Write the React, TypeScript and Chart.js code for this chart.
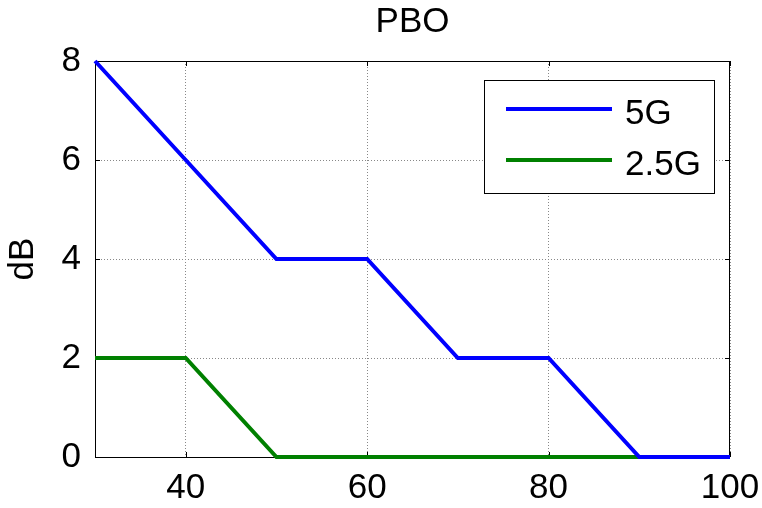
import React, { useEffect, useRef } from 'react';
import { Chart, registerables } from 'chart.js';

Chart.register(...registerables);

const titleText = 'PBO';
const yAxisTitle = 'dB';
const seriesLabels = ['5G', '2.5G'];
const xValues = [30, 40, 50, 60, 70, 80, 90, 100];
const values5G = [8, 6, 4, 4, 2, 2, 0, 0];
const values25G = [2, 2, 0, 0, 0, 0, 0, 0];
const xTickValues = [40, 60, 80, 100];
const yTickValues = [0, 2, 4, 6, 8];
const seriesColors = ['#0000FF', '#008000'];

const FONT = 'Arial, "Liberation Sans", Helvetica, sans-serif';
const FS = 35;

const matlabPlugin = {
  id: 'matlabBox',
  beforeDatasetsDraw(chart: any) {
    const { ctx, chartArea: a, scales } = chart;
    ctx.save();
    ctx.strokeStyle = '#000';
    ctx.lineWidth = 1;
    ctx.strokeRect(a.left + 0.5, a.top + 0.5, a.right - a.left - 1, a.bottom - a.top);
    const tl = 5;
    ctx.beginPath();
    for (const v of xTickValues) {
      const x = Math.round(scales.x.getPixelForValue(v)) + 0.5;
      ctx.moveTo(x, a.bottom);
      ctx.lineTo(x, a.bottom - tl);
      ctx.moveTo(x, a.top);
      ctx.lineTo(x, a.top + tl);
    }
    for (const v of yTickValues) {
      const y = Math.round(scales.y.getPixelForValue(v)) + 0.5;
      ctx.moveTo(a.left, y);
      ctx.lineTo(a.left + tl, y);
      ctx.moveTo(a.right, y);
      ctx.lineTo(a.right - tl, y);
    }
    ctx.stroke();
    ctx.restore();
  },
  afterDraw(chart: any) {
    const { ctx, chartArea: a } = chart;
    const right = a.right - 16;
    const left = right - 230;
    const top = a.top + 19;
    const h = 113;
    ctx.save();
    ctx.fillStyle = '#fff';
    ctx.fillRect(left, top, right - left, h);
    ctx.strokeStyle = '#000';
    ctx.lineWidth = 1;
    ctx.strokeRect(left + 0.5, top + 0.5, right - left, h);
    chart.data.datasets.forEach((ds: any, i: number) => {
      const y = top + 29 + i * 51;
      ctx.strokeStyle = ds.borderColor;
      ctx.lineWidth = 4;
      ctx.beginPath();
      ctx.moveTo(left + 22, y);
      ctx.lineTo(left + 128, y);
      ctx.stroke();
      ctx.fillStyle = '#000';
      ctx.font = `${FS}px ${FONT}`;
      ctx.textBaseline = 'middle';
      ctx.textAlign = 'left';
      ctx.fillText(ds.label, left + 141, y + 5);
    });
    ctx.restore();
  },
};

export default function App() {
  const ref = useRef<HTMLCanvasElement | null>(null);
  useEffect(() => {
    if (!ref.current) return;
    const mk = (ys: number[]) => xValues.map((x, i) => ({ x, y: ys[i] }));
    const chart = new Chart(ref.current, {
      type: 'line',
      data: {
        datasets: [
          { label: seriesLabels[0], data: mk(values5G), borderColor: seriesColors[0], backgroundColor: seriesColors[0], borderWidth: 4, pointRadius: 0, tension: 0, clip: 6 } as any,
          { label: seriesLabels[1], data: mk(values25G), borderColor: seriesColors[1], backgroundColor: seriesColors[1], borderWidth: 4, pointRadius: 0, tension: 0, clip: 6 } as any,
        ],
      },
      options: {
        animation: false,
        responsive: false,
        maintainAspectRatio: false,
        layout: { padding: { left: 0, right: 32, top: 0, bottom: 0 } },
        plugins: {
          legend: { display: false },
          tooltip: { enabled: false },
          title: {
            display: true,
            fullSize: false,
            text: titleText,
            color: '#000',
            font: { family: FONT, size: FS, weight: 'normal' },
            padding: { top: 1, bottom: 18 },
          },
        },
        scales: {
          x: {
            type: 'linear',
            min: 30,
            max: 100,
            afterBuildTicks: (s: any) => {
              s.ticks = xTickValues.map((v) => ({ value: v }));
            },
            afterFit: (s: any) => {
              s.height = 51;
              s.paddingLeft = 0;
              s.paddingRight = 0;
            },
            grid: { drawTicks: false, color: '#888', lineWidth: 1 },
            border: { display: false, dash: [1, 2] },
            ticks: { color: '#000', font: { family: FONT, size: FS }, padding: 10, maxRotation: 0 },
          },
          y: {
            type: 'linear',
            min: 0,
            max: 8,
            afterBuildTicks: (s: any) => {
              s.ticks = yTickValues.map((v) => ({ value: v }));
            },
            afterFit: (s: any) => {
              s.width = 95;
              s.paddingTop = 0;
              s.paddingBottom = 0;
            },
            grid: { drawTicks: false, color: '#888', lineWidth: 1 },
            border: { display: false, dash: [1, 2] },
            ticks: { color: '#000', font: { family: FONT, size: FS }, padding: 14 },
            title: {
              display: true,
              text: yAxisTitle,
              color: '#000',
              font: { family: FONT, size: FS },
              padding: { top: 2, bottom: 0 },
            },
          },
        },
      },
      plugins: [matlabPlugin],
    } as any);
    return () => chart.destroy();
  }, []);
  return (
    <div style={{ position: 'absolute', left: 0, top: 0, width: 762, height: 508, background: '#fff' }}>
      <canvas ref={ref} width={762} height={508} style={{ width: 762, height: 508 }} />
    </div>
  );
}
